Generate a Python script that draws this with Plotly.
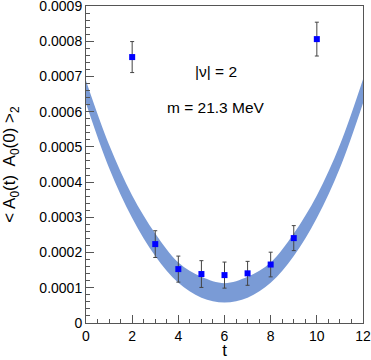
import plotly.graph_objects as go

# lattice points
t = [2, 3, 4, 5, 6, 7, 8, 9, 10]
corr = [7.55e-4, 2.24e-4, 1.53e-4, 1.39e-4, 1.36e-4, 1.41e-4, 1.66e-4, 2.41e-4, 8.06e-4]
err = [4.4e-5, 3.8e-5, 3.7e-5, 3.8e-5, 3.7e-5, 3.4e-5, 3.5e-5, 3.55e-5, 4.8e-5]

# fit band
band_t = [0, 1, 2, 3, 4, 5, 6, 7, 8, 9, 10, 11, 12]
band_hi = [6.88e-4, 5.06e-4, 3.62e-4, 2.54e-4, 1.72e-4, 1.31e-4, 1.13e-4, 1.31e-4, 1.72e-4, 2.54e-4, 3.62e-4, 5.06e-4, 6.92e-4]
band_lo = [6.24e-4, 4.40e-4, 2.98e-4, 1.90e-4, 1.14e-4, 0.72e-4, 0.58e-4, 0.72e-4, 1.14e-4, 1.90e-4, 2.98e-4, 4.40e-4, 6.24e-4]

xtick_vals = [0, 2, 4, 6, 8, 10, 12]
xtick_text = ["0", "2", "4", "6", "8", "10", "12"]
ytick_vals = [0, 0.0001, 0.0002, 0.0003, 0.0004, 0.0005, 0.0006, 0.0007, 0.0008, 0.0009]
ytick_text = ["0", "0.0001", "0.0002", "0.0003", "0.0004", "0.0005", "0.0006", "0.0007", "0.0008", "0.0009"]

band_col = "rgb(122,155,214)"

fig = go.Figure()
fig.add_trace(go.Scatter(x=band_t, y=band_lo, mode="lines", line=dict(width=0, shape="spline"),
                         hoverinfo="skip", showlegend=False))
fig.add_trace(go.Scatter(x=band_t, y=band_hi, mode="lines", line=dict(width=0, shape="spline"),
                         fill="tonexty", fillcolor=band_col, hoverinfo="skip", showlegend=False))
fig.add_trace(go.Scatter(x=t, y=corr, mode="markers",
                         marker=dict(symbol="square", size=6, color="rgb(0,0,255)"),
                         error_y=dict(type="data", array=err, color="#444", thickness=1, width=2),
                         showlegend=False))

fig.add_annotation(x=5.63, y=7.13e-4, text="|\u03bd| = 2", showarrow=False,
                   font=dict(size=15.5, color="black"))
fig.add_annotation(x=5.63, y=6.13e-4, text="m = 21.3 MeV", showarrow=False,
                   font=dict(size=15.5, color="black"))

axis_common = dict(showgrid=False, zeroline=False, showline=True, linecolor="#555", linewidth=1,
                   mirror=True, ticks="inside", tickcolor="#555", ticklen=8, automargin=False,
                   tickfont=dict(size=14, color="black"), ticklabeloverflow="allow")

fig.update_xaxes(range=[0, 12], tickvals=xtick_vals, ticktext=xtick_text,
                 minor=dict(ticks="inside", dtick=0.5, ticklen=4, tickcolor="#555"),
                 title=dict(text="t", font=dict(size=17, color="black"), standoff=3),
                 **axis_common)
fig.update_yaxes(range=[0, 0.0009], tickvals=ytick_vals, ticktext=ytick_text,
                 minor=dict(ticks="inside", dtick=0.00002, ticklen=4, tickcolor="#555"),
                 title=dict(text="&lt; A<sub>0</sub>(t)  A<sub>0</sub>(0) &gt;<sub>2</sub>",
                            font=dict(size=17, color="black"), standoff=22),
                 **axis_common)

fig.update_layout(width=371, height=360, margin=dict(l=86, r=8, t=6, b=37),
                  plot_bgcolor="white", paper_bgcolor="white",
                  font=dict(family="Liberation Sans, Arial, sans-serif"))

fig.write_html("out.html", config={"displayModeBar": False},
               post_script="document.body.style.margin='0px';")
